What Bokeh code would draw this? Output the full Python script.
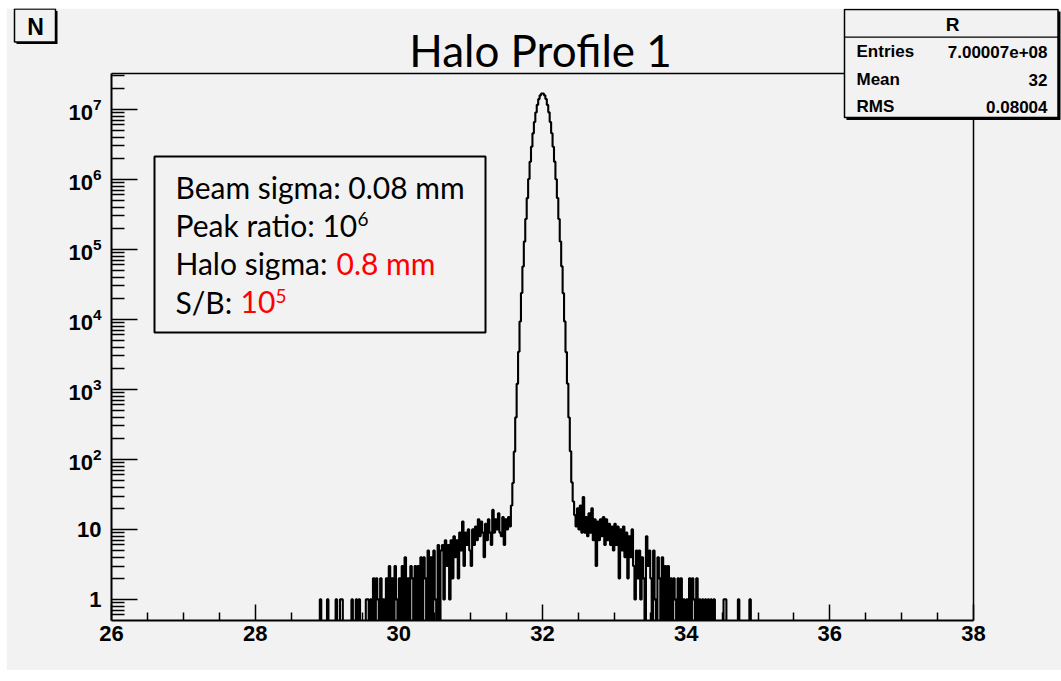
import numpy as np
from bokeh.plotting import figure
from bokeh.models import FixedTicker, LinearAxis, Label, Spacer, Range1d
from bokeh.layouts import row, column
from bokeh.embed import file_html
from bokeh.resources import INLINE

# ---------------- data ----------------
title_text = "Halo Profile 1"
stats_title = "R"
stats_names = ["Entries", "Mean", "RMS"]
stats_values = ["7.00007e+08", "32", "0.08004"]
x_ticks = [26, 28, 30, 32, 34, 36, 38]
y_ticks = [1, 10, 100, 1e3, 1e4, 1e5, 1e6, 1e7]

bin_width = 0.02
first_edge = 28.90
left_halo = [1, 0, 0, 0, 0, 1, 0, 0, 0, 0,
             0, 1, 0, 0, 1, 1, 0, 0, 0, 0,
             0, 0, 1, 0, 0, 1, 0, 1, 0, 0,
             0, 0, 1, 1, 0,
             1, 0, 2, 0, 2, 1, 0, 2, 0, 1,
             0, 2, 0, 3, 0, 2, 0, 3, 1, 0,
             2, 0, 3, 0, 4, 0, 2, 0, 3, 2,
             0, 3, 0, 3, 0, 4, 0, 4, 2, 0,
             5, 0, 4, 0, 5, 1, 0, 6, 0, 5,
             6, 1, 7, 3, 6, 1, 7, 2, 8, 4,
             7, 2, 9, 5, 13, 3, 9, 6, 10, 5,
             3, 10, 6, 11, 7, 14, 8, 13, 9, 4,
             12, 7, 14, 9, 6, 19, 9, 14, 10, 17,
             9, 8, 15, 6, 14, 10, 15, 11]
core = [22, 46, 129, 398, 1200, 3440, 9310, 23800, 57000, 129000, 272000,
        540000, 1010000, 1780000, 2930000, 4540000, 6600000, 9030000,
        11600000, 14000000, 15850000, 16870000,
        16850000, 15830000, 14020000, 11580000, 9050000, 6580000, 4550000,
        2920000, 1790000, 1005000, 541000, 271000, 129500, 57200, 23700,
        9350, 3410, 1210, 397, 131, 47, 25]
right_halo = [16, 11, 20, 10, 22, 9, 29, 9, 15, 8,
              17, 9, 20, 7, 14, 3, 13, 7, 14, 8,
              15, 6, 14, 7, 12, 6, 11, 5, 12, 6,
              11, 2, 10, 5, 11, 4, 9, 2, 8, 4,
              10, 3, 1, 5, 2, 5, 1, 4, 2, 0,
              8, 3, 5, 2, 0, 5, 1, 0, 4, 2,
              0, 4, 0, 3, 0, 3, 0, 2, 0, 2,
              1, 0, 2, 0, 2, 0, 1, 0, 1, 0,
              2, 0, 2, 1, 0, 2, 0, 1, 0, 1,
              0, 1, 0, 1, 0, 1, 0, 1, 0, 0,
              0, 0, 0, 0, 1, 1, 0, 0, 0, 0,
              0, 0, 0, 0, 1, 0, 0, 0, 0, 0,
              0, 0, 1, 0]

counts = np.array(left_halo + core + right_halo, dtype=float)
edges = first_edge + bin_width * np.arange(len(counts) + 1)
FLOOR = 0.1  # empty bins drawn below the frame bottom, like ROOT
plot_counts = np.where(counts > 0, counts, FLOOR)
xs = np.repeat(edges, 2)
ys = np.concatenate([[FLOOR], np.repeat(plot_counts, 2), [FLOOR]])

# ---------------- main figure ----------------
BG = "#f2f2f2"
FONT = "Liberation Sans"
W, H = 1055, 662
p = figure(width=W, height=H, x_range=(26, 38), y_range=(0.5, 3.25e7),
           y_axis_type="log", output_backend="svg", toolbar_location=None,
           min_border_left=105, min_border_right=88, min_border_top=65,
           min_border_bottom=50, background_fill_color=BG,
           border_fill_color=BG, outline_line_color=None)
p.grid.visible = False

p.line(xs, ys, line_color="black", line_width=2.1)

x_minor = [v for v in np.arange(26, 38.001, 0.5) if v not in x_ticks]
y_minor = [k * 10.0 ** d for d in range(-1, 8) for k in range(2, 10)
           if 0.55 <= k * 10.0 ** d <= 3.2e7]

xa = p.xaxis[0]
xa.ticker = FixedTicker(ticks=x_ticks, minor_ticks=x_minor)
xa.major_tick_in = 16
xa.major_tick_out = 0
xa.minor_tick_in = 8
xa.minor_tick_out = 0
xa.major_label_standoff = 5

ya = p.yaxis[0]
ya.ticker = FixedTicker(ticks=y_ticks, minor_ticks=y_minor)
ya.major_label_overrides = {1: "1", 10: "10"}
ya.major_tick_in = 26
ya.major_tick_out = 0
ya.minor_tick_in = 13
ya.minor_tick_out = 0
ya.major_label_standoff = 10

for ax in (xa, ya):
    ax.axis_line_width = 2
    ax.axis_line_color = "black"
    ax.major_tick_line_width = 1.5
    ax.minor_tick_line_width = 1.5
    ax.major_tick_line_color = "black"
    ax.minor_tick_line_color = "black"
    ax.major_label_text_font = FONT
    ax.major_label_text_font_style = "bold"
    ax.major_label_text_font_size = "22px"
    ax.major_label_text_color = "black"

for side in ("above", "right"):
    fr = LinearAxis(ticker=FixedTicker(ticks=[]), axis_line_width=1.5,
                    axis_line_color="black", major_tick_in=0, major_tick_out=0,
                    minor_tick_in=0, minor_tick_out=0)
    p.add_layout(fr, side)

# ---------------- overlay figure (page pixel coordinates) ----------------
ov = figure(width=W, height=H, x_range=Range1d(6, 6 + W), y_range=Range1d(8 + H, 8),
            output_backend="svg", toolbar_location=None,
            x_axis_location=None, y_axis_location=None,
            min_border_left=0, min_border_right=0, min_border_top=0,
            min_border_bottom=0, background_fill_color=None,
            border_fill_color=None, outline_line_color=None,
            styles={"position": "absolute", "left": "6px", "top": "8px"})
ov.grid.visible = False


def box(l, t, r, b, fill, line=None, lw=1.5):
    ov.quad(left=[l], right=[r], top=[t], bottom=[b], fill_color=fill,
            line_color=line, line_width=lw)


def label(px, py, text, size, font=FONT, style="normal", color="black",
          align="left", baseline="alphabetic"):
    ov.add_layout(Label(x=px, y=py, text=text, text_font=font,
                        text_font_size=size, text_font_style=style,
                        text_color=color, text_align=align,
                        text_baseline=baseline))


# N box
box(16, 10.5, 57, 43.5, "black")
box(14, 8.5, 55, 41.5, BG, "black", 1.5)
label(35, 26, "N", "23px", style="bold", align="center", baseline="middle")

# title
label(540, 49, title_text, "44px", font="Lato", align="center")

# stats box
box(846, 11, 1060, 119.5, "black")
box(844, 9, 1057.5, 117, BG, "black", 1.5)
box(844, 36, 1057.5, 37.3, "black")
label(952, 24, stats_title, "19px", style="bold", align="center", baseline="middle")
for name, val, yy in zip(stats_names, stats_values, [51, 79, 106]):
    label(856, yy, name, "17px", style="bold", baseline="middle")
    label(1047, yy, val, "17px", style="bold", align="right", baseline="middle")

# info box
box(154, 156, 485, 332, BG, "black", 2)
TF = "Lato"
TS = "30px"
SS = "19px"
label(175, 186.5, "Beam sigma: 0.08 mm", TS, font=TF)
label(175, 224.5, "Peak ratio: 10", TS, font=TF)
label(357, 218.5, "6", SS, font=TF)
label(175, 262.5, "Halo sigma: ", TS, font=TF)
label(336, 262.5, "0.8 mm", TS, font=TF, color="#ff0000")
label(175, 301.5, "S/B: ", TS, font=TF)
label(240, 301.5, "10", TS, font=TF, color="#ff0000")
label(275, 295.5, "5", SS, font=TF, color="#ff0000")

layout = column(Spacer(height=8), row(Spacer(width=6), p))
open("out.html", "w").write(file_html([layout, ov], INLINE))
